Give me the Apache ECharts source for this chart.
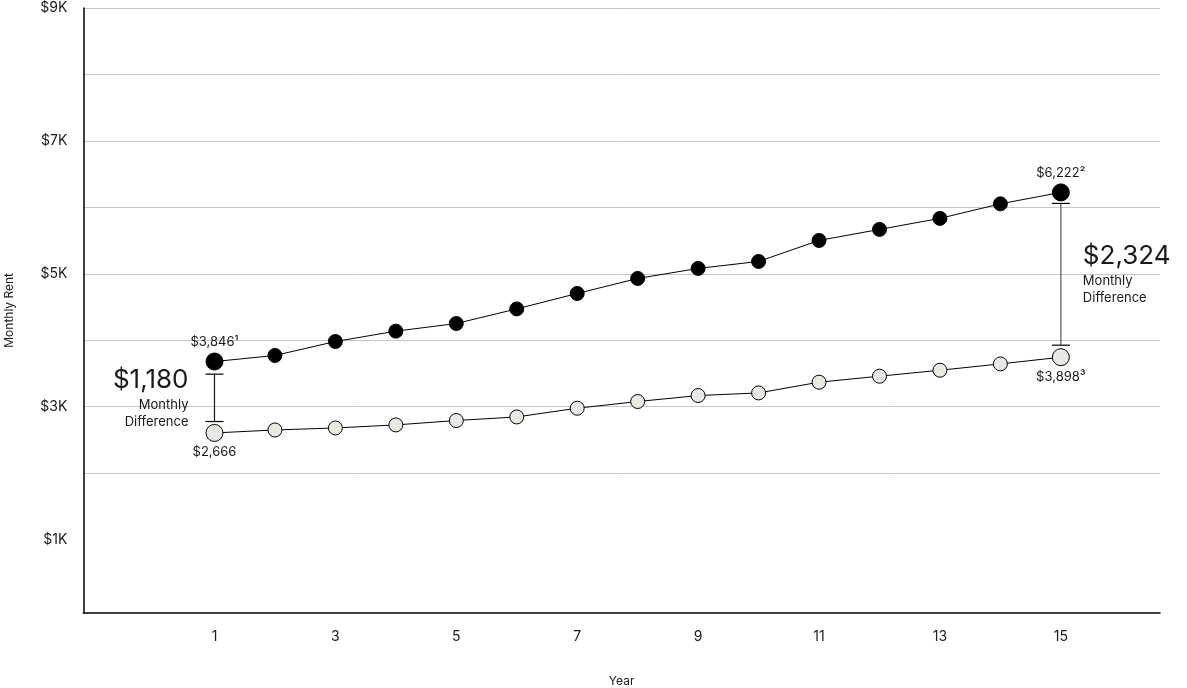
<!DOCTYPE html>
<html>
<head>
<meta charset="utf-8">
<script src="https://cdn.jsdelivr.net/npm/echarts@6/dist/echarts.min.js"></script>
<style>
html,body{margin:0;padding:0;background:#fff;}
#chart{width:1187px;height:688px;}
</style>
</head>
<body>
<div id="chart"></div>
<script>
// ---- data ----
const years = [1,2,3,4,5,6,7,8,9,10,11,12,13,14,15];
const marketRent = [3680,3771,3981,4137,4252,4472,4704,4930,5081,5186,5502,5668,5834,6053,6225];
const ourRent    = [2605,2650,2680,2726,2792,2846,2977,3078,3168,3207,3369,3459,3549,3644,3745];
const xTickLabels = [1,3,5,7,9,11,13,15];
const yTickLabels = [1000,3000,5000,7000,9000];
const yGridValues = [1000,2000,3000,4000,5000,6000,7000,8000,9000];
const marketEndLabels = ['$3,846\u00B9', '$6,222\u00B2'];
const ourEndLabels = ['$2,666', '$3,898\u00B3'];
const diffYears = [1, 15];
const diffLow = [2777, 3926];
const diffHigh = [3490, 6059];
const diffValues = ['$1,180', '$2,324'];
const diffCaption = ['Monthly', 'Difference'];

const FONT = 'Inter, "Noto Sans", "DejaVu Sans", sans-serif';
const TXT = '#1a1a1a';

function buildLine(values, endLabels, pos) {
  const last = values.length - 1;
  return years.map((y, i) => {
    const isEnd = (i === 0 || i === last);
    return {
      value: [y, values[i]],
      symbolSize: isEnd ? 17 : 14,
      label: {
        show: isEnd,
        position: pos,
        distance: 4,
        formatter: isEnd ? (i === 0 ? endLabels[0] : endLabels[1]) : ''
      }
    };
  });
}

const chart = echarts.init(document.getElementById('chart'), null, {renderer: 'canvas'});

const option = {
  animation: false,
  backgroundColor: '#ffffff',
  textStyle: {fontFamily: FONT},
  grid: {left: 83.3, right: 27, top: 8, bottom: 75.3, containLabel: false, outerBoundsMode: 'none'},
  xAxis: {
    type: 'value',
    min: -1.17,
    max: 16.64,
    name: 'Year',
    nameLocation: 'middle',
    nameGap: 63,
    nameTextStyle: {fontSize: 12, color: TXT, fontFamily: FONT},
    axisLine: {show: true, onZero: false, lineStyle: {color: '#000', width: 1.5}},
    axisTick: {show: false},
    axisLabel: {customValues: xTickLabels, margin: 17, fontSize: 14, color: TXT, fontFamily: FONT},
    splitLine: {show: false}
  },
  yAxis: {
    type: 'value',
    min: -100,
    max: 9000,
    name: 'Monthly Rent',
    nameLocation: 'middle',
    nameGap: 68,
    nameTextStyle: {fontSize: 12, color: TXT, fontFamily: FONT},
    axisLine: {show: true, onZero: false, lineStyle: {color: '#000', width: 1.5}},
    axisTick: {show: false, customValues: yGridValues},
    axisLabel: {
      customValues: yTickLabels,
      margin: 16,
      fontSize: 14,
      color: TXT,
      fontFamily: FONT,
      formatter: v => '$' + (v / 1000) + 'K'
    },
    splitLine: {show: true, showMinLine: false, lineStyle: {color: '#c6c6c6', width: 1}}
  },
  series: [
    {
      name: 'Difference',
      type: 'custom',
      z: 1,
      data: diffYears.map((y, i) => [y, diffLow[i], diffHigh[i]]),
      encode: {x: 0, y: [1, 2]},
      renderItem: function (params, api) {
        const i = params.dataIndex;
        const x = api.value(0);
        const pTop = api.coord([x, api.value(2)]);
        const pBot = api.coord([x, api.value(1)]);
        const cx = pTop[0];
        const half = 9;
        const midY = (pTop[1] + pBot[1]) / 2;
        const isLeft = (i === 0);
        const tx = isLeft ? cx - 26 : cx + 22;
        const align = isLeft ? 'right' : 'left';
        const textStyle = (t, y, size) => ({
          type: 'text',
          style: {
            text: t, x: tx, y: y,
            align: align, textAlign: align,
            verticalAlign: 'middle', textVerticalAlign: 'middle',
            fontSize: size, fontFamily: FONT, fill: TXT
          }
        });
        return {
          type: 'group',
          children: [
            {type: 'line', shape: {x1: cx, y1: pTop[1], x2: cx, y2: pBot[1]},
             style: {stroke: isLeft ? '#111' : '#555', lineWidth: 1.2}},
            {type: 'line', shape: {x1: cx - half, y1: pTop[1], x2: cx + half, y2: pTop[1]},
             style: {stroke: '#000', lineWidth: 1.2}},
            {type: 'line', shape: {x1: cx - half, y1: pBot[1], x2: cx + half, y2: pBot[1]},
             style: {stroke: '#000', lineWidth: 1.2}},
            textStyle(diffValues[i], midY - 18, 26),
            textStyle(diffCaption[0], midY + 7, 13),
            textStyle(diffCaption[1], midY + 24, 13)
          ]
        };
      }
    },
    {
      name: 'Market Rent',
      type: 'line',
      z: 3,
      symbol: 'circle',
      lineStyle: {color: '#000', width: 1},
      itemStyle: {color: '#000', borderColor: '#000', borderWidth: 1},
      label: {fontSize: 13, color: TXT, fontFamily: FONT},
      data: buildLine(marketRent, marketEndLabels, 'top')
    },
    {
      name: 'Our Rent',
      type: 'line',
      z: 3,
      symbol: 'circle',
      lineStyle: {color: '#000', width: 1},
      itemStyle: {color: '#e9e8e2', borderColor: '#000', borderWidth: 1},
      label: {fontSize: 13, color: TXT, fontFamily: FONT},
      data: buildLine(ourRent, ourEndLabels, 'bottom')
    }
  ]
};

chart.setOption(option);
</script>
</body>
</html>
